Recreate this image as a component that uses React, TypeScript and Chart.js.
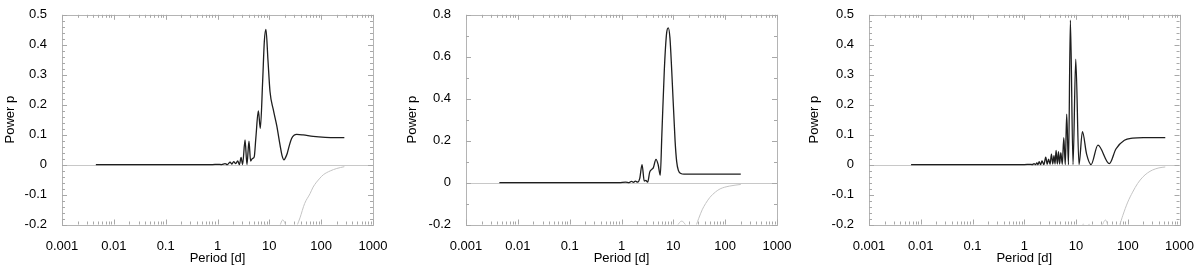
import React, { useEffect, useRef } from 'react';
import { Chart, registerables } from 'chart.js';

Chart.register(...registerables);

// ---- axis ticks ----
const xTickValues = [0.001, 0.01, 0.1, 1, 10, 100, 1000];
const xTickLabels = ['0.001', '0.01', '0.1', '1', '10', '100', '1000'];

const yTicksA = [-0.2, -0.1, 0, 0.1, 0.2, 0.3, 0.4, 0.5];
const yLabelsA = ['-0.2', '-0.1', '0', '0.1', '0.2', '0.3', '0.4', '0.5'];
const yTicksB = [-0.2, 0, 0.2, 0.4, 0.6, 0.8];
const yLabelsB = ['-0.2', '0', '0.2', '0.4', '0.6', '0.8'];

// ---- panel 1 ----
const p1Period = [0.0045, 0.1, 0.8, 1.0, 1.2, 1.4, 1.55, 1.75, 1.9, 2.05, 2.25, 2.45, 2.65, 2.85, 3.05, 3.4, 3.7, 4.05, 4.35, 4.7, 5.1, 5.5, 6.14, 6.7, 7.44, 8.0, 8.6, 9.4, 10.3, 11.9, 13.9, 16.1, 17.6, 19.2, 20.6, 22.2, 24.5, 26.9, 30, 33.7, 45, 70, 120, 280];
const p1Power = [0, 0, 0, 0.001, 0, 0.003, 0, 0.008, 0.002, 0.01, 0.003, 0.012, 0, 0.024, 0, 0.082, 0, 0.078, 0.012, 0.02, 0.025, 0.09, 0.179, 0.121, 0.28, 0.41, 0.451, 0.35, 0.244, 0.184, 0.13, 0.065, 0.03, 0.016, 0.024, 0.038, 0.066, 0.087, 0.098, 0.101, 0.099, 0.094, 0.091, 0.09];
const p1WinPeriod = [0.0045, 1, 5, 7.5, 8.3, 9.2, 13, 16, 18, 20.5, 25, 30, 35, 39, 48, 61, 70, 95, 110, 150, 200, 280];
const p1WinPower = [-0.3, -0.3, -0.28, -0.23, -0.198, -0.23, -0.26, -0.205, -0.185, -0.2, -0.27, -0.24, -0.2, -0.178, -0.13, -0.097, -0.075, -0.045, -0.034, -0.021, -0.013, -0.007];

// ---- panel 2 ----
const p2Period = [0.0044, 0.1, 0.9, 1.2, 1.4, 1.55, 1.7, 1.85, 2.05, 2.25, 2.49, 2.75, 2.95, 3.2, 3.5, 3.8, 4.1, 4.63, 5.1, 5.6, 6.0, 6.7, 7.4, 8.0, 8.6, 9.3, 10.8, 11.6, 12.5, 14, 16, 200];
const p2Power = [0, 0, 0, 0.002, 0, 0.006, 0.001, 0.007, 0.002, 0.02, 0.085, 0.007, 0.01, 0.002, 0.05, 0.062, 0.07, 0.111, 0.085, 0.035, 0.225, 0.537, 0.71, 0.738, 0.69, 0.537, 0.2, 0.1, 0.058, 0.043, 0.04, 0.04];
const p2WinPeriod = [0.0044, 1, 5, 6.3, 6.9, 7.5, 10, 12, 14.5, 17.5, 22, 25, 28, 31, 36, 42, 51, 65, 80, 120, 200];
const p2WinPower = [-0.3, -0.3, -0.28, -0.22, -0.199, -0.22, -0.25, -0.205, -0.184, -0.205, -0.26, -0.24, -0.2, -0.17, -0.13, -0.1, -0.07, -0.045, -0.03, -0.017, -0.009];

// ---- panel 3 ----
const p3Period = [0.0065, 0.1, 1.0, 1.3, 1.42, 1.55, 1.65, 1.75, 1.84, 1.94, 2.07, 2.2, 2.39, 2.6, 2.77, 2.95, 3.15, 3.35, 3.55, 3.75, 3.93, 4.12, 4.35, 4.58, 4.82, 5.08, 5.43, 5.8, 6.2, 6.6, 7.15, 7.78, 8.75, 9.88, 11.4, 13.3, 16, 19.5, 26.5, 44, 59, 86, 124, 200, 530];
const p3Power = [0, 0, 0, 0.001, 0, 0.003, 0, 0.006, 0, 0.01, 0, 0.012, 0, 0.025, 0.001, 0.018, 0.001, 0.035, 0.002, 0.03, 0.002, 0.047, 0.002, 0.043, 0.002, 0.04, 0.001, 0.09, 0, 0.168, 0, 0.482, 0, 0.352, 0, 0.11, 0.035, 0, 0.065, 0.003, 0.052, 0.081, 0.088, 0.09, 0.09];
const p3WinPeriod = [0.0065, 1, 10, 12.5, 13.8, 15, 16, 17.8, 20, 25, 31, 37, 44, 52, 60, 70, 80, 100, 124, 155, 194, 240, 302, 400, 530];
const p3WinPower = [-0.3, -0.3, -0.3, -0.22, -0.198, -0.22, -0.22, -0.198, -0.22, -0.25, -0.21, -0.185, -0.215, -0.225, -0.215, -0.2, -0.17, -0.125, -0.092, -0.063, -0.042, -0.028, -0.018, -0.011, -0.008];

const FONT = 'Liberation Sans, Arial, Helvetica, sans-serif';
const FS = 13;

type PanelCfg = {
  period: number[]; power: number[]; winPeriod: number[]; winPower: number[];
  yMin: number; yMax: number; yTicks: number[]; yLabels: string[]; yMinor: number;
  plotLeft: number; padRight: number; yTitlePad: number;
};

const panels: PanelCfg[] = [
  { period: p1Period, power: p1Power, winPeriod: p1WinPeriod, winPower: p1WinPower,
    yMin: -0.2, yMax: 0.5, yTicks: yTicksA, yLabels: yLabelsA, yMinor: 0.02,
    plotLeft: 62, padRight: 27, yTitlePad: 3 },
  { period: p2Period, power: p2Power, winPeriod: p2WinPeriod, winPower: p2WinPower,
    yMin: -0.2, yMax: 0.8, yTicks: yTicksB, yLabels: yLabelsB, yMinor: 0.1,
    plotLeft: 66, padRight: 23, yTitlePad: 5 },
  { period: p3Period, power: p3Power, winPeriod: p3WinPeriod, winPower: p3WinPower,
    yMin: -0.2, yMax: 0.5, yTicks: yTicksA, yLabels: yLabelsA, yMinor: 0.02,
    plotLeft: 69, padRight: 20, yTitlePad: 7 },
];

function makeFramePlugin(cfg: PanelCfg) {
  return {
    id: 'frameTicks',
    beforeDatasetsDraw(chart: any) {
      const { ctx, chartArea: a, scales } = chart;
      const xs = scales.x, ys = scales.y;
      ctx.save();
      // zero line
      const y0 = Math.round(ys.getPixelForValue(0)) + 0.5;
      ctx.strokeStyle = '#c8c8c8';
      ctx.lineWidth = 1;
      ctx.beginPath();
      ctx.moveTo(a.left, y0);
      ctx.lineTo(a.right, y0);
      ctx.stroke();
      // frame
      ctx.strokeStyle = '#b4b4b4';
      ctx.strokeRect(Math.round(a.left) + 0.5, Math.round(a.top) + 0.5, Math.round(a.right - a.left), Math.round(a.bottom - a.top));
      // ticks
      ctx.strokeStyle = '#a8a8a8';
      ctx.beginPath();
      const xTick = (v: number, len: number) => {
        const px = Math.round(xs.getPixelForValue(v)) + 0.5;
        ctx.moveTo(px, a.bottom); ctx.lineTo(px, a.bottom - len);
        ctx.moveTo(px, a.top); ctx.lineTo(px, a.top + len);
      };
      for (let e = -3; e <= 3; e++) {
        const base = Math.pow(10, e);
        xTick(base, 5);
        if (e < 3) for (let k = 2; k <= 9; k++) xTick(k * base, 3);
      }
      const nMinor = Math.round((cfg.yMax - cfg.yMin) / cfg.yMinor);
      for (let i = 0; i <= nMinor; i++) {
        const v = cfg.yMin + i * cfg.yMinor;
        const major = cfg.yTicks.some((t) => Math.abs(t - v) < 1e-9);
        const len = major ? 5 : 3;
        const py = Math.round(ys.getPixelForValue(v)) + 0.5;
        ctx.moveTo(a.left, py); ctx.lineTo(a.left + len, py);
        ctx.moveTo(a.right, py); ctx.lineTo(a.right - len, py);
      }
      ctx.stroke();
      ctx.restore();
    },
  };
}

function Panel({ cfg }: { cfg: PanelCfg }) {
  const ref = useRef<HTMLCanvasElement>(null);
  useEffect(() => {
    const chart = new Chart(ref.current as HTMLCanvasElement, {
      type: 'line',
      data: {
        datasets: [
          {
            data: cfg.winPeriod.map((p, i) => ({ x: p, y: cfg.winPower[i] })),
            borderColor: '#c4c4c4', borderWidth: 1, pointRadius: 0,
            cubicInterpolationMode: 'monotone', fill: false,
          },
          {
            data: cfg.period.map((p, i) => ({ x: p, y: cfg.power[i] })),
            borderColor: '#1e1e1e', borderWidth: 1.3, pointRadius: 0,
            cubicInterpolationMode: 'monotone', fill: false,
          },
        ],
      } as any,
      options: {
        animation: false,
        responsive: false,
        devicePixelRatio: 1,
        events: [],
        layout: { padding: { left: 0, right: cfg.padRight, top: 10, bottom: 0 } },
        plugins: { legend: { display: false }, tooltip: { enabled: false } },
        scales: {
          x: {
            type: 'logarithmic', min: 0.001, max: 1000,
            afterBuildTicks: (s: any) => { s.ticks = xTickValues.map((v) => ({ value: v })); },
            afterFit: (s: any) => { s.height = 43.5; },
            ticks: {
              autoSkip: false, maxRotation: 0, minRotation: 0, padding: 6, color: '#000',
              font: { family: FONT, size: FS },
              callback: (_v: any, i: number) => xTickLabels[i],
            },
            grid: { display: false },
            border: { display: false },
            title: { display: true, text: 'Period [d]', color: '#000', font: { family: FONT, size: FS }, padding: { top: 0, bottom: 2 } },
          },
          y: {
            type: 'linear', min: cfg.yMin, max: cfg.yMax,
            afterBuildTicks: (s: any) => { s.ticks = cfg.yTicks.map((v) => ({ value: v })); },
            afterFit: (s: any) => { s.width = cfg.plotLeft; },
            ticks: {
              padding: 7, color: '#000', font: { family: FONT, size: FS },
              callback: (_v: any, i: number) => cfg.yLabels[i],
            },
            grid: { display: false },
            border: { display: false },
            title: { display: true, text: 'Power p', color: '#000', font: { family: FONT, size: FS }, padding: { top: cfg.yTitlePad, bottom: 0 } },
          },
        },
      } as any,
      plugins: [makeFramePlugin(cfg)],
    });
    return () => chart.destroy();
  }, [cfg]);
  return <canvas ref={ref} width={400} height={268} style={{ width: 400, height: 268, display: 'block' }} />;
}

export default function App() {
  return (
    <div style={{ position: 'absolute', left: 0, top: 0, width: 1200, height: 268, display: 'flex', background: '#fff' }}>
      {panels.map((cfg, i) => (
        <Panel key={i} cfg={cfg} />
      ))}
    </div>
  );
}
